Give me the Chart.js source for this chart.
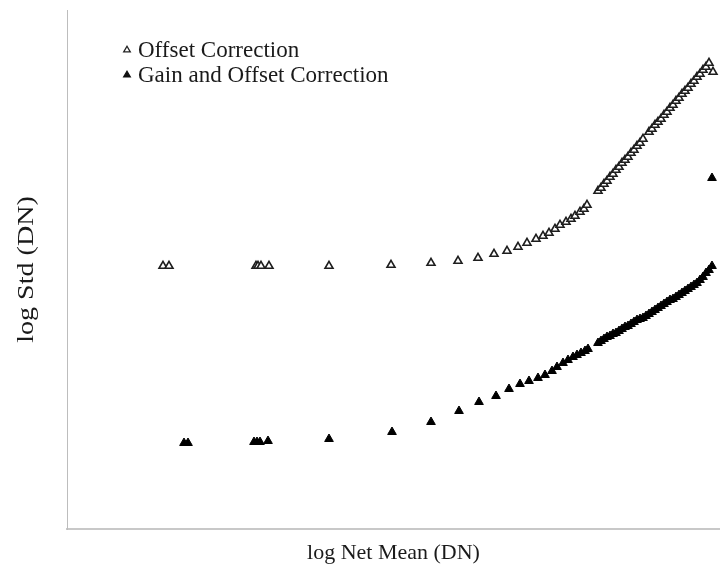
<!DOCTYPE html>
<html>
<head>
<meta charset="utf-8">
<title>log Std vs log Net Mean</title>
<script src="https://cdn.jsdelivr.net/npm/chart.js@4.4.1/dist/chart.umd.min.js"></script>
<style>
  html, body { margin: 0; padding: 0; background: #ffffff; }
  #wrap { width: 720px; height: 567px; }
</style>
</head>
<body>
<div id="wrap"><canvas id="chart" width="720" height="567"></canvas></div>
<script>
// Series labels
const seriesNames = ["Offset Correction", "Gain and Offset Correction"];

// Offset Correction: log net mean (x) and log std (y)
const offsetX = [0.96, 1.02, 1.89, 1.91, 1.94, 2.02, 2.62, 3.24, 3.64, 3.91,
  4.11, 4.27, 4.40, 4.51, 4.60, 4.69, 4.76, 4.82, 4.88, 4.93,
  4.99, 5.04, 5.08, 5.13, 5.17, 5.20,
  5.31, 5.34, 5.37, 5.40, 5.43, 5.46, 5.49, 5.52, 5.55, 5.58,
  5.61, 5.64, 5.67, 5.70, 5.73, 5.76, 5.82, 5.85, 5.88, 5.91,
  5.94, 5.97, 6.00, 6.03, 6.06, 6.09, 6.12, 6.15, 6.18, 6.21,
  6.24, 6.27, 6.30, 6.33, 6.36, 6.39, 6.42, 6.46];
const offsetY = [2.63, 2.63, 2.63, 2.63, 2.63, 2.63, 2.63, 2.64, 2.66, 2.68,
  2.71, 2.75, 2.78, 2.82, 2.86, 2.90, 2.93, 2.96, 3.00, 3.04,
  3.07, 3.10, 3.13, 3.17, 3.20, 3.24,
  3.38, 3.41, 3.45, 3.48, 3.52, 3.55, 3.59, 3.62, 3.66, 3.69,
  3.72, 3.76, 3.79, 3.83, 3.86, 3.90, 3.97, 4.00, 4.04, 4.07,
  4.10, 4.14, 4.17, 4.21, 4.24, 4.28, 4.31, 4.35, 4.38, 4.41,
  4.45, 4.48, 4.52, 4.55, 4.59, 4.62, 4.66, 4.57];

// Gain and Offset Correction: log net mean (x) and log std (y)
const gainX = [1.17, 1.21, 1.87, 1.90, 1.93, 2.01, 2.62, 3.25, 3.64, 3.92,
  4.12, 4.29, 4.42, 4.53, 4.62, 4.71, 4.78, 4.85, 4.90, 4.96,
  5.01, 5.06, 5.10, 5.14, 5.18, 5.21,
  5.31, 5.34, 5.37, 5.40, 5.43, 5.46, 5.49, 5.52, 5.55, 5.58,
  5.61, 5.64, 5.67, 5.70, 5.73, 5.76, 5.79, 5.82, 5.85, 5.88,
  5.91, 5.94, 5.97, 6.00, 6.03, 6.06, 6.09, 6.12, 6.15, 6.18,
  6.21, 6.24, 6.27, 6.30, 6.33, 6.36, 6.39, 6.42, 6.45, 6.45];
const gainY = [0.86, 0.86, 0.87, 0.87, 0.87, 0.88, 0.90, 0.97, 1.07, 1.18,
  1.27, 1.33, 1.40, 1.45, 1.48, 1.51, 1.54, 1.58, 1.62, 1.66,
  1.69, 1.72, 1.74, 1.76, 1.78, 1.80,
  1.86, 1.88, 1.90, 1.92, 1.93, 1.95, 1.96, 1.98, 2.00, 2.02,
  2.03, 2.05, 2.07, 2.09, 2.10, 2.11, 2.13, 2.15, 2.17, 2.19,
  2.21, 2.23, 2.25, 2.27, 2.29, 2.30, 2.32, 2.34, 2.36, 2.38,
  2.40, 2.42, 2.44, 2.46, 2.49, 2.52, 2.56, 2.59, 2.63, 3.51];

// Axis extents
const xRange = [0, 6.53];
const yRange = [0, 5.19];

const toPoints = (xs, ys) => xs.map((x, i) => ({ x: x, y: ys[i] }));

const serif = "'Liberation Serif', 'Times New Roman', 'DejaVu Serif', serif";

// Legend drawn inside the plot area, top-left
const insideLegend = {
  id: 'insideLegend',
  afterDraw(chart) {
    const ctx = chart.ctx;
    const rows = [
      { y: 50, fill: '#ffffff', stroke: '#222222' },
      { y: 75, fill: '#111111', stroke: '#111111' }
    ];
    ctx.save();
    rows.forEach((row, i) => {
      const cx = 127, r = 3.8;
      ctx.beginPath();
      ctx.moveTo(cx, row.y - r);
      ctx.lineTo(cx + r * 0.866, row.y + r * 0.5);
      ctx.lineTo(cx - r * 0.866, row.y + r * 0.5);
      ctx.closePath();
      ctx.fillStyle = row.fill;
      ctx.fill();
      ctx.lineWidth = 1.3;
      ctx.strokeStyle = row.stroke;
      ctx.stroke();
      ctx.fillStyle = '#1a1a1a';
      ctx.font = "23px " + serif;
      ctx.textBaseline = 'middle';
      ctx.textAlign = 'left';
      ctx.fillText(seriesNames[i], 138, row.y + 1);
    });
    ctx.restore();
  }
};

// Rotated y-axis caption, drawn slightly elongated along its reading direction
const yCaption = {
  id: 'yCaption',
  afterDraw(chart) {
    const ctx = chart.ctx;
    const area = chart.chartArea;
    ctx.save();
    ctx.translate(27, (area.top + area.bottom) / 2);
    ctx.rotate(-Math.PI / 2);
    ctx.scale(1.22, 1);
    ctx.fillStyle = '#1a1a1a';
    ctx.font = "23px " + serif;
    ctx.textAlign = 'center';
    ctx.textBaseline = 'middle';
    ctx.fillText('log Std (DN)', 0, 0);
    ctx.restore();
  }
};

new Chart(document.getElementById('chart'), {
  type: 'scatter',
  data: {
    datasets: [
      {
        label: seriesNames[0],
        data: toPoints(offsetX, offsetY),
        pointStyle: 'triangle',
        pointRadius: 4.6,
        pointBackgroundColor: '#ffffff',
        pointBorderColor: '#1e1e1e',
        pointBorderWidth: 1.6
      },
      {
        label: seriesNames[1],
        data: toPoints(gainX, gainY),
        pointStyle: 'triangle',
        pointRadius: 5,
        pointBackgroundColor: '#000000',
        pointBorderColor: '#000000',
        pointBorderWidth: 1
      }
    ]
  },
  options: {
    responsive: false,
    devicePixelRatio: 1,
    animation: false,
    layout: { autoPadding: false, padding: { top: 10, right: 0, bottom: 0, left: 0 } },
    plugins: {
      legend: { display: false },
      tooltip: { enabled: false }
    },
    scales: {
      x: {
        type: 'linear',
        min: xRange[0],
        max: xRange[1],
        grid: { display: false, drawTicks: false },
        border: { display: true, color: '#c8c8c8', width: 2 },
        ticks: { display: false },
        title: {
          display: true,
          text: 'log Net Mean (DN)',
          color: '#1a1a1a',
          font: { family: serif, size: 22 },
          padding: { top: 10.8, bottom: 0.8 }
        }
      },
      y: {
        type: 'linear',
        min: yRange[0],
        max: yRange[1],
        grid: { display: false, drawTicks: false },
        border: { display: true, color: '#bdbdbd', width: 1 },
        ticks: { display: false },
        title: {
          display: true,
          text: ' ',
          font: { family: serif, size: 22 },
          padding: { top: 14, bottom: 26.6 }
        }
      }
    }
  },
  plugins: [insideLegend, yCaption]
});
</script>
</body>
</html>
